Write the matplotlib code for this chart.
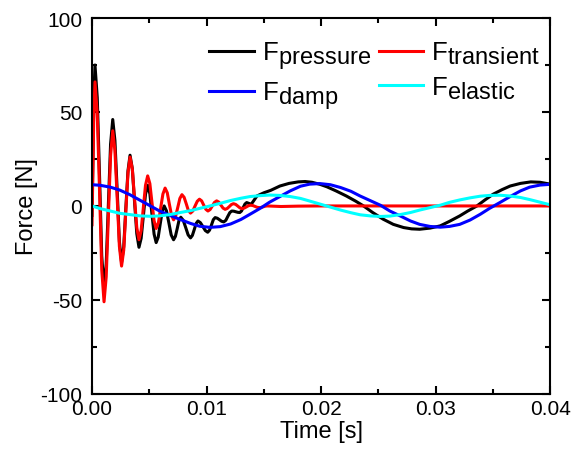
import matplotlib
matplotlib.use("Agg")
import matplotlib.pyplot as plt
import matplotlib._mathtext as mt
from matplotlib.ticker import MultipleLocator

# subscripts in the original are nearly full size
mt.SHRINK_FACTOR = 0.92

plt.rcParams['font.family'] = ['Liberation Sans', 'DejaVu Sans']
plt.rcParams['mathtext.fontset'] = 'custom'
plt.rcParams['mathtext.rm'] = 'Liberation Sans'
plt.rcParams['axes.unicode_minus'] = False

# ---- data (time in s, force in N) ----
t_transient = [0.0, 0.00008, 0.00016, 0.00026,
               0.00046, 0.00066, 0.00085, 0.00105,
               0.00124, 0.00143, 0.00162, 0.00181,
               0.00200, 0.00220, 0.00239, 0.00258,
               0.00277, 0.00295, 0.00314, 0.00332,
               0.00352, 0.00371, 0.00391, 0.00410,
               0.00429, 0.00448, 0.00467, 0.00486,
               0.00505, 0.00523, 0.00542, 0.00560,
               0.00580, 0.00599, 0.00619, 0.00638,
               0.00657, 0.00675, 0.00694, 0.00712,
               0.00730, 0.00749, 0.00767, 0.00785,
               0.00804, 0.00823, 0.00841, 0.00860,
               0.00880, 0.00899, 0.00919, 0.00938,
               0.00957, 0.00975, 0.00994, 0.01012,
               0.01031, 0.01050, 0.01069, 0.01088,
               0.01107, 0.01125, 0.01144, 0.01162,
               0.01180, 0.01199, 0.01217, 0.01235,
               0.01254, 0.01273, 0.01291, 0.01310,
               0.01329, 0.01348, 0.01366, 0.01385,
               0.01404, 0.01423, 0.01441, 0.01460,
               0.01478, 0.01495, 0.01513, 0.01530,
               0.0165, 0.018, 0.020, 0.025, 0.030, 0.035, 0.040]
f_transient = [-10, 20, 50, 66,
               48.9, 7.5, -33.9, -51,
               -37.7, -5.5, 26.7, 40,
               29.5, 4, -21.5, -32,
               -23.5, -3, 17.5, 26,
               19.6, 4, -11.6, -18,
               -13, -1, 11, 16,
               11.9, 2, -7.9, -12,
               -8.85, -1.25, 6.35, 9.5,
               7.0, 1.05, -4.9, -7.4,
               -5.4, -0.7, 4.0, 6,
               4.6, 1.1, -2.4, -3.8,
               -2.7, -0.1, 2.5, 3.6,
               2.7, 0.45, -1.8, -2.7,
               -1.9, 0, 1.9, 2.7,
               2.05, 0.45, -1.15, -1.8,
               -1.36, -0.3, 0.76, 1.2,
               0.82, -0.1, -1.02, -1.4,
               -1.14, -0.5, 0.14, 0.4,
               0.21, -0.25, -0.71, -0.9,
               -0.77, -0.45, -0.13, 0.0,
               -0.3, -0.1, 0.0, 0.0, 0.0, 0.0, 0.0]

t_pressure = [0.0, 0.00008, 0.00016, 0.00026,
              0.00046, 0.00066, 0.00085, 0.00105,
              0.00124, 0.00143, 0.00162, 0.00181,
              0.00200, 0.00220, 0.00239, 0.00258,
              0.00277, 0.00295, 0.00314, 0.00332,
              0.00352, 0.00371, 0.00391, 0.00410,
              0.00429, 0.00448, 0.00467, 0.00486,
              0.00505, 0.00523, 0.00542, 0.00560,
              0.00578, 0.00595, 0.00613, 0.00630,
              0.00650, 0.00671, 0.00691, 0.00712,
              0.00728, 0.00744, 0.00759, 0.00775,
              0.00796, 0.00818, 0.00839, 0.00860,
              0.00876, 0.00893, 0.00909, 0.00925,
              0.00946, 0.00968, 0.00989, 0.01010,
              0.01026, 0.01043, 0.01059, 0.01075,
              0.01094, 0.01113, 0.01131, 0.01150,
              0.01168, 0.01185, 0.01203, 0.01220,
              0.01238, 0.01255, 0.01273, 0.01290,
              0.01305, 0.01320, 0.01335, 0.01350,
              0.01390, 0.0144, 0.0150, 0.0156, 0.0164, 0.0172,
              0.0180, 0.0186, 0.0192, 0.0199, 0.0205, 0.0213,
              0.0222, 0.0230, 0.0237, 0.0245, 0.0254, 0.0263,
              0.0272, 0.0279, 0.0286, 0.0295, 0.0304, 0.0312,
              0.0321, 0.0328, 0.0336, 0.0343, 0.0350, 0.0358,
              0.0365, 0.0374, 0.0383, 0.0391, 0.0400]
f_pressure = [-5, 25, 58, 75,
              57.6, 15.5, -26.6, -44,
              -30.8, 1, 32.8, 46,
              34.9, 8, -18.9, -30,
              -21.7, -1.5, 18.7, 27,
              19.8, 2.5, -14.8, -22,
              -17.2, -5.5, 6.2, 11,
              6.5, -4.25, -15.0, -19.5,
              -16.6, -9.75, -2.9, 0,
              -2.6, -9, -15.4, -18,
              -16.2, -12, -7.8, -6,
              -7.6, -11.5, -15.4, -17,
              -15.7, -12.5, -9.3, -8,
              -8.9, -11, -13.1, -14,
              -12.9, -10.1, -7.3, -6.2,
              -6.55, -7.35, -8.15, -8.5,
              -7.65, -5.6, -3.55, -2.7,
              -2.8, -3.1, -3.4, -3.5,
              -2.7, -0.85, 1.0, 1.8,
              0.9, 5.3, 7, 8.3, 10.6, 12,
              12.8, 13, 12.6, 11.5, 10.2, 8,
              5.3, 2.6, 0, -3.5, -7, -9.8,
              -11.5, -12.2, -12.4, -11.8, -10.6, -8.2,
              -5.3, -2.7, 0, 3.2, 6.2, 8.7,
              10.6, 12, 12.8, 12.6, 11.6]

t_slow = [0.0, 0.0007, 0.0016, 0.0024, 0.0033, 0.0042, 0.0051, 0.0059,
          0.0068, 0.0077, 0.0086, 0.0094, 0.0103, 0.0112, 0.0121, 0.0130,
          0.0138, 0.0147, 0.0155, 0.0164, 0.0173, 0.0182, 0.0190, 0.0199,
          0.0208, 0.0217, 0.0226, 0.0234, 0.0243, 0.0252, 0.0260, 0.0269,
          0.0278, 0.0286, 0.0295, 0.0304, 0.0312, 0.0321, 0.0330, 0.0339,
          0.0347, 0.0356, 0.0365, 0.0374, 0.0382, 0.0391, 0.0400]
f_damp = [11.3, 11.0, 10.0, 8.5, 6.0, 3.0, 0.0, -2.7,
          -5.0, -7.2, -9.3, -10.8, -11.4, -11.0, -9.6, -7.2,
          -4.4, -1.2, 2.0, 5.0, 8.0, 10.5, 11.6, 11.9,
          11.3, 9.8, 7.8, 5.3, 2.8, 0.3, -2.7, -5.3,
          -8.0, -9.8, -10.9, -11.3, -10.9, -9.8, -7.5, -4.4,
          -1.3, 1.8, 5.0, 8.0, 10.0, 11.1, 11.5]
f_elastic = [0.0, -1.4, -2.7, -3.9, -4.6, -5.3, -5.5, -5.3,
             -4.6, -3.5, -2.5, -1.3, 0.0, 1.4, 2.9, 4.1,
             5.0, 5.5, 5.8, 5.6, 5.0, 4.0, 2.6, 1.0,
             -0.6, -2.2, -3.6, -4.7, -5.3, -5.6, -5.4, -4.6,
             -3.5, -2.2, -0.9, 0.4, 1.9, 3.2, 4.3, 5.2,
             5.6, 5.7, 5.3, 4.5, 3.4, 2.0, 0.6]

labels = [r'F$_{\mathregular{pressure}}$', r'F$_{\mathregular{transient}}$',
          r'F$_{\mathregular{damp}}$', r'F$_{\mathregular{elastic}}$']

fig = plt.figure(figsize=(5.86, 4.64), dpi=100)
ax = fig.add_axes([0.157, 0.149, 0.782, 0.810])

lw = 2.2
h_p, = ax.plot(t_pressure, f_pressure, color='black', lw=lw, label=labels[0])
h_t, = ax.plot(t_transient, f_transient, color='red', lw=lw, label=labels[1])
h_d, = ax.plot(t_slow, f_damp, color='blue', lw=lw, label=labels[2])
h_e, = ax.plot(t_slow, f_elastic, color='cyan', lw=lw, label=labels[3])

ax.set_xlim(0, 0.04)
ax.set_ylim(-100, 100)
ax.xaxis.set_major_locator(MultipleLocator(0.01))
ax.xaxis.set_minor_locator(MultipleLocator(0.005))
ax.yaxis.set_major_locator(MultipleLocator(50))
ax.yaxis.set_minor_locator(MultipleLocator(25))
ax.xaxis.set_major_formatter(plt.FormatStrFormatter('%.2f'))

for s in ax.spines.values():
    s.set_linewidth(1.5)
ax.tick_params(which='both', direction='in', top=True, right=True, width=1.5,
               labelsize=15)
ax.tick_params(which='major', length=6)
ax.tick_params(which='minor', length=3.5)
ax.tick_params(axis='x', which='major', pad=4)
ax.tick_params(axis='y', which='major', pad=7)

ax.set_xlabel('Time [s]', fontsize=17, labelpad=1)
ax.set_ylabel('Force [N]', fontsize=17, labelpad=2)

ax.legend([h_p, h_d, h_t, h_e], [labels[0], labels[2], labels[1], labels[3]],
          ncol=2, loc='upper right', frameon=False, fontsize=18.5,
          handlelength=1.75, handletextpad=0.3, columnspacing=0.3,
          labelspacing=0.3, borderaxespad=0.0, bbox_to_anchor=(1.0, 0.97))

fig.savefig('out.png', dpi=100)
